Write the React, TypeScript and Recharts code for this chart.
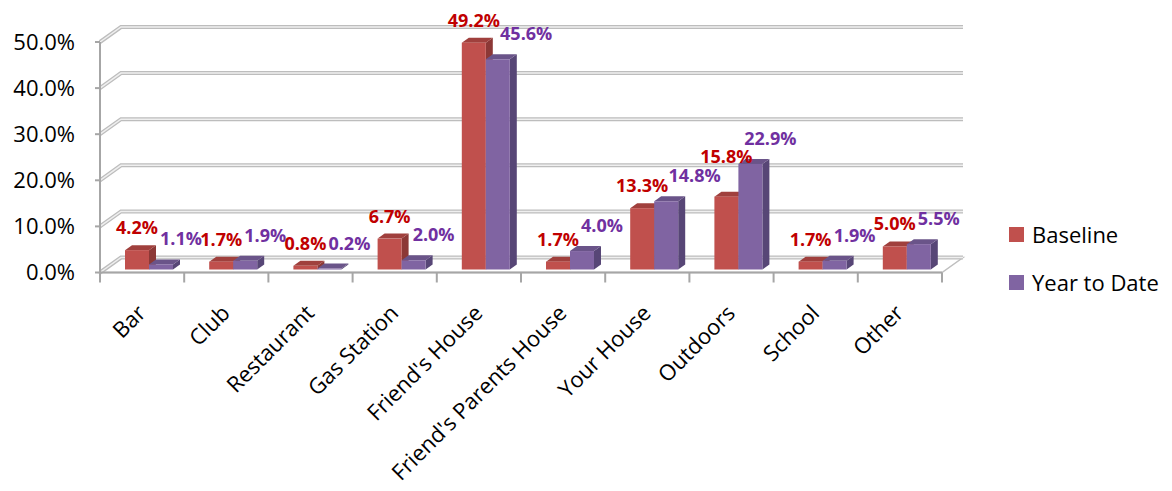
import React from 'react'
import { Bar, BarChart, CartesianGrid, LabelList, Legend, XAxis, YAxis } from 'recharts'

const categories = [
  'Bar',
  'Club',
  'Restaurant',
  'Gas Station',
  "Friend's House",
  "Friend's Parents House",
  'Your House',
  'Outdoors',
  'School',
  'Other',
]
const baseline = [4.2, 1.7, 0.8, 6.7, 49.2, 1.7, 13.3, 15.8, 1.7, 5.0]
const yearToDate = [1.1, 1.9, 0.2, 2.0, 45.6, 4.0, 14.8, 22.9, 1.9, 5.5]
const yTicks = [0, 10, 20, 30, 40, 50]
const seriesNames = ['Baseline', 'Year to Date']

const data = categories.map((name, i) => ({ name, baseline: baseline[i], ytd: yearToDate[i] }))

// layout
const W = 1172
const H = 491
const MARGIN = { top: 42, right: 230, bottom: 118.5, left: 20 }
const Y_W = 80
const X_H = 100
const PLOT_L = MARGIN.left + Y_W
const PLOT_R = W - MARGIN.right
const PLOT_B = H - MARGIN.bottom - X_H
const BAND = (PLOT_R - PLOT_L) / categories.length

// 3d depth of walls and of bars
const DX = 21
const DY = -15
const BDX = 7
const BDY = -5
const SX = 7
const SY = -3

const FONT = '"Open Sans", "Liberation Sans", sans-serif'

const RED = { front: '#C0504D', top: '#A0403D', side: '#8C3836' }
const PURPLE = { front: '#8064A2', top: '#6A5489', side: '#574676' }
const RED_TEXT = '#C00000'
const PURPLE_TEXT = '#7030A0'

const fmt = (v: number) => `${v.toFixed(1)}%`
// rough width of a bold 18px label
const textW = (v: number) => fmt(v).replace(/[.%]/g, '').length * 10.3 + 5 + 15.5
const LABEL_H = 17

type Box = { x: number; y: number; w: number }
const hits = (a: Box, b: Box) => Math.abs(a.x - b.x) < (a.w + b.w) / 2 - 1 && Math.abs(a.y - b.y) < LABEL_H

// place the data labels like excel does: above the bars, pushed aside when they collide
function layoutLabels(ppu: number, bottom: number, x0: number, w: number) {
  const red: Box[] = []
  const purple: Box[] = []
  let prev: Box | null = null
  categories.forEach((_, i) => {
    const left = x0 + i * BAND
    const r: Box = { x: left + w / 2 + SX, y: bottom - baseline[i] * ppu + SY - 23, w: textW(baseline[i]) }
    if (prev && hits(r, prev)) r.y = prev.y - LABEL_H - 2
    const p: Box = { x: left + w * 1.5 + SX + 20, y: bottom - yearToDate[i] * ppu + SY - 26, w: textW(yearToDate[i]) }
    if (hits(r, p)) p.x = r.x + (r.w + p.w) / 2 + 1
    red.push(r)
    purple.push(p)
    prev = p
  })
  return { red, purple }
}

function renderGridLine(props: any) {
  const { x1, x2, y1 } = props
  const by = y1 + DY
  const isFloor = Math.abs(y1 - PLOT_B) < 1
  return (
    <g key={`gl-${y1}`}>
      {isFloor && (
        <polygon
          points={`${x1},${y1} ${x2},${y1} ${x2 + DX},${by} ${x1 + DX},${by}`}
          fill="#fff"
          stroke="#BFBFBF"
          strokeWidth={1.5}
        />
      )}
      <path d={`M${x1},${y1} L${x1 + DX},${by} L${x2 + DX},${by}`} fill="none" stroke="#BDBDBD" strokeWidth={4} />
      <path d={`M${x1},${y1} L${x1 + DX},${by} L${x2 + DX},${by}`} fill="none" stroke="#EFEFEF" strokeWidth={1.5} />
    </g>
  )
}

function bar3D(c: { front: string; top: string; side: string }) {
  return (props: any) => {
    const { x, y, width, height } = props
    if (width == null || height == null) return <g />
    const fx = x + SX
    const fy = y + SY
    const r = fx + width
    const b = fy + height
    return (
      <g>
        <polygon points={`${r},${fy} ${r + BDX},${fy + BDY} ${r + BDX},${b + BDY} ${r},${b}`} fill={c.side} />
        <polygon points={`${fx},${fy} ${fx + BDX},${fy + BDY} ${r + BDX},${fy + BDY} ${r},${fy}`} fill={c.top} />
        <rect x={fx} y={fy} width={width} height={Math.max(height, 0.5)} fill={c.front} />
      </g>
    )
  }
}

function valueLabel(series: 'red' | 'purple', color: string) {
  return (props: any) => {
    const { x, y, width, height, value, index } = props
    if (!value) return null
    const ppu = height / value
    const redX = series === 'red' ? x : x - width
    const boxes = layoutLabels(ppu, y + height, redX - index * BAND, width)[series]
    const b = boxes[index]
    return (
      <text
        x={b.x}
        y={b.y}
        textAnchor="middle"
        dominantBaseline="central"
        fill={color}
        fontWeight="bold"
        fontSize={18}
        fontFamily={FONT}
      >
        {fmt(Number(value))}
      </text>
    )
  }
}

function CategoryTick(props: any) {
  const { x, payload, index } = props
  const i = payload?.index ?? index
  return (
    <g>
      {i === 0 && <line x1={x - BAND / 2} y1={PLOT_B} x2={x - BAND / 2} y2={PLOT_B + 10} stroke="#A6A6A6" strokeWidth={2} />}
      <line x1={x + BAND / 2} y1={PLOT_B} x2={x + BAND / 2} y2={PLOT_B + 10} stroke="#A6A6A6" strokeWidth={2} />
      <text
        transform={`translate(${x + 5},${PLOT_B + 42}) rotate(-45)`}
        textAnchor="end"
        fontSize={22}
        fontFamily={FONT}
        fill="#000"
      >
        {payload.value}
      </text>
    </g>
  )
}

function LegendBox() {
  const colors = [RED.front, PURPLE.front]
  return (
    <div style={{ fontFamily: FONT, fontSize: 22, color: '#000' }}>
      {seriesNames.map((n, i) => (
        <div key={n} style={{ display: 'flex', alignItems: 'center', height: 48, lineHeight: 1 }}>
          <span style={{ width: 15, height: 15, background: colors[i], marginRight: 8, display: 'inline-block' }} />
          <span>{n}</span>
        </div>
      ))}
    </div>
  )
}

export default function App() {
  return (
    <div style={{ position: 'absolute', left: 0, top: 0, width: W, height: H, background: '#fff' }}>
      <BarChart width={W} height={H} data={data} margin={MARGIN} barSize={24} barGap={0}>
        <CartesianGrid vertical={false} horizontal={renderGridLine} />
        <XAxis
          dataKey="name"
          height={X_H}
          interval={0}
          axisLine={{ stroke: '#A6A6A6', strokeWidth: 2 }}
          tickLine={false}
          tick={<CategoryTick />}
        />
        <YAxis
          width={Y_W}
          domain={[0, 50]}
          ticks={yTicks}
          interval={0}
          tickFormatter={fmt}
          axisLine={{ stroke: '#A6A6A6', strokeWidth: 2 }}
          tickLine={{ stroke: '#A6A6A6', strokeWidth: 2 }}
          tickSize={5}
          tickMargin={20}
          tick={{ fontSize: 22, fill: '#000', fontFamily: FONT }}
        />
        <Legend
          layout="vertical"
          align="center"
          verticalAlign="middle"
          content={<LegendBox />}
          wrapperStyle={{ position: 'absolute', left: 1009, top: 210, width: 160, height: 96 }}
        />
        <Bar dataKey="baseline" name={seriesNames[0]} isAnimationActive={false} shape={bar3D(RED)}>
          <LabelList dataKey="baseline" content={valueLabel('red', RED_TEXT)} />
        </Bar>
        <Bar dataKey="ytd" name={seriesNames[1]} isAnimationActive={false} shape={bar3D(PURPLE)}>
          <LabelList dataKey="ytd" content={valueLabel('purple', PURPLE_TEXT)} />
        </Bar>
      </BarChart>
    </div>
  )
}
